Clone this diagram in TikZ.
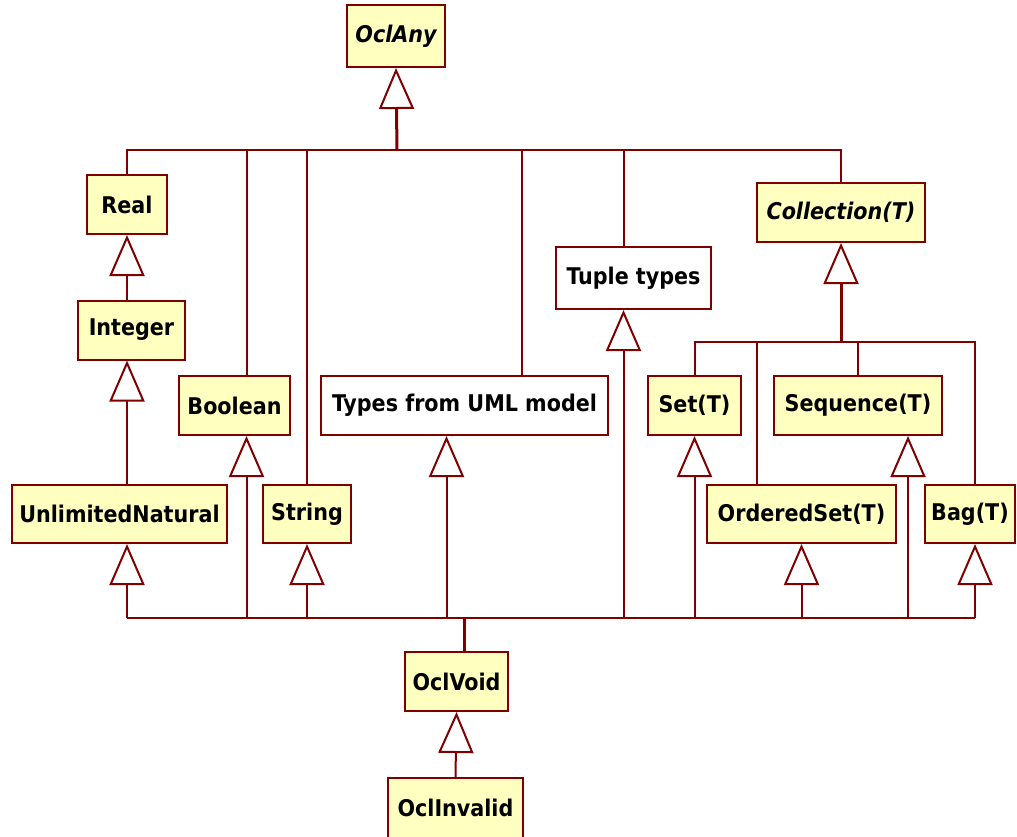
\documentclass[tikz,border=0pt]{standalone}
\usepackage{fontspec}
\setmainfont{DejaVu Sans Condensed}
\usetikzlibrary{arrows.meta}

\definecolor{umlline}{RGB}{128,0,0}
\definecolor{umlfill}{RGB}{255,255,192}

\begin{document}
\begin{tikzpicture}[x=1pt, y=-1pt, line join=miter,
  every node/.style={font=\fontsize{23}{27}\selectfont\bfseries},
  cls/.style={draw=umlline, line width=2pt, fill=umlfill, inner sep=0pt},
  plain/.style={cls, fill=white},
  line/.style={draw=umlline, line width=2pt},
  heavy/.style={draw=umlline, line width=3pt},
  gen/.style={-{Triangle[open, width=35pt, length=41pt, line width=2pt]}}]

\useasboundingbox (0,0) rectangle (1017,836);

% classes (centre and size)
\node[cls, minimum width=98pt,  minimum height=62pt] (oclany)     at (396,36)    {\itshape OclAny};
\node[cls, minimum width=80pt,  minimum height=59pt] (real)       at (127,204.5) {Real};
\node[cls, minimum width=107pt, minimum height=59pt] (integer)    at (131.5,330) {Integer};
\node[cls, minimum width=215pt, minimum height=58pt] (unlimited)  at (119.5,514) {UnlimitedNatural};
\node[cls, minimum width=111pt, minimum height=59pt] (boolean)    at (234.5,405.5) {Boolean};
\node[cls, minimum width=88pt,  minimum height=58pt] (string)     at (307,514)   {String};
\node[plain, minimum width=287pt, minimum height=59pt] (uml)      at (464.5,405.5) {Types from UML model};
\node[plain, minimum width=155pt, minimum height=62pt] (tuple)    at (633.5,278) {Tuple types};
\node[cls, minimum width=168pt, minimum height=59pt] (collection) at (841,212.5) {\itshape Collection(T)};
\node[cls, minimum width=93pt,  minimum height=59pt] (set)        at (694.5,405.5) {Set(T)};
\node[cls, minimum width=168pt, minimum height=59pt] (sequence)   at (858,405.5) {Sequence(T)};
\node[cls, minimum width=189pt, minimum height=58pt] (orderedset) at (801.5,514) {OrderedSet(T)};
\node[cls, minimum width=90pt,  minimum height=58pt] (bag)        at (970,514)   {Bag(T)};
\node[cls, minimum width=103pt, minimum height=59pt] (oclvoid)    at (456.5,681.5) {OclVoid};
\node[cls, minimum width=135pt, minimum height=60pt] (oclinvalid) at (455.5,808) {OclInvalid};

% bus joints
\coordinate (top)  at (397,150);
\coordinate (coll) at (841,342);
\coordinate (low)  at (464,618);

% everything under OclAny
\draw[heavy, gen] (top) -- (oclany.south);
\draw[line] (real.north) |- (collection.north |- top) -- (collection.north);
\draw[line] ([xshift=12]boolean.north) -- ([xshift=12]boolean.north |- top);
\draw[line] (string.north) -- (string.north |- top);
\draw[line] ([xshift=57]uml.north) -- ([xshift=57]uml.north |- top);
\draw[line] ([xshift=-10]tuple.north) -- ([xshift=-10]tuple.north |- top);

% number chain
\draw[line, gen] (integer.north -| real.south) -- (real.south);
\draw[line, gen] (unlimited.north -| real.south) -- (integer.south -| real.south);

% collections
\draw[heavy, gen] (coll) -- (collection.south);
\draw[line] (set.north) |- ([xshift=5]bag.north |- coll) -- ([xshift=5]bag.north);
\draw[line] ([xshift=-45]orderedset.north) -- ([xshift=-45]orderedset.north |- coll);
\draw[line] (sequence.north) -- (sequence.north |- coll);

% OclVoid conforms to all
\draw[line] (real.south |- low) -- ([xshift=5]bag.south |- low);
\draw[line, gen] (real.south |- low) -- (real.south |- unlimited.south);
\draw[line, gen] ([xshift=12]boolean.south |- low) -- ([xshift=12]boolean.south);
\draw[line, gen] (string.south |- low) -- (string.south);
\draw[line, gen] ([xshift=-18]uml.south |- low) -- ([xshift=-18]uml.south);
\draw[line, gen] ([xshift=-10]tuple.south |- low) -- ([xshift=-10]tuple.south);
\draw[line, gen] (set.south |- low) -- (set.south);
\draw[line, gen] (orderedset.south |- low) -- (orderedset.south);
\draw[line, gen] ([xshift=50]sequence.south |- low) -- ([xshift=50]sequence.south);
\draw[line, gen] ([xshift=5]bag.south |- low) -- ([xshift=5]bag.south);
\draw[heavy] (low) -- (low |- oclvoid.north);
\draw[line, gen] (oclinvalid.north) -- (oclvoid.south);

\end{tikzpicture}
\end{document}
